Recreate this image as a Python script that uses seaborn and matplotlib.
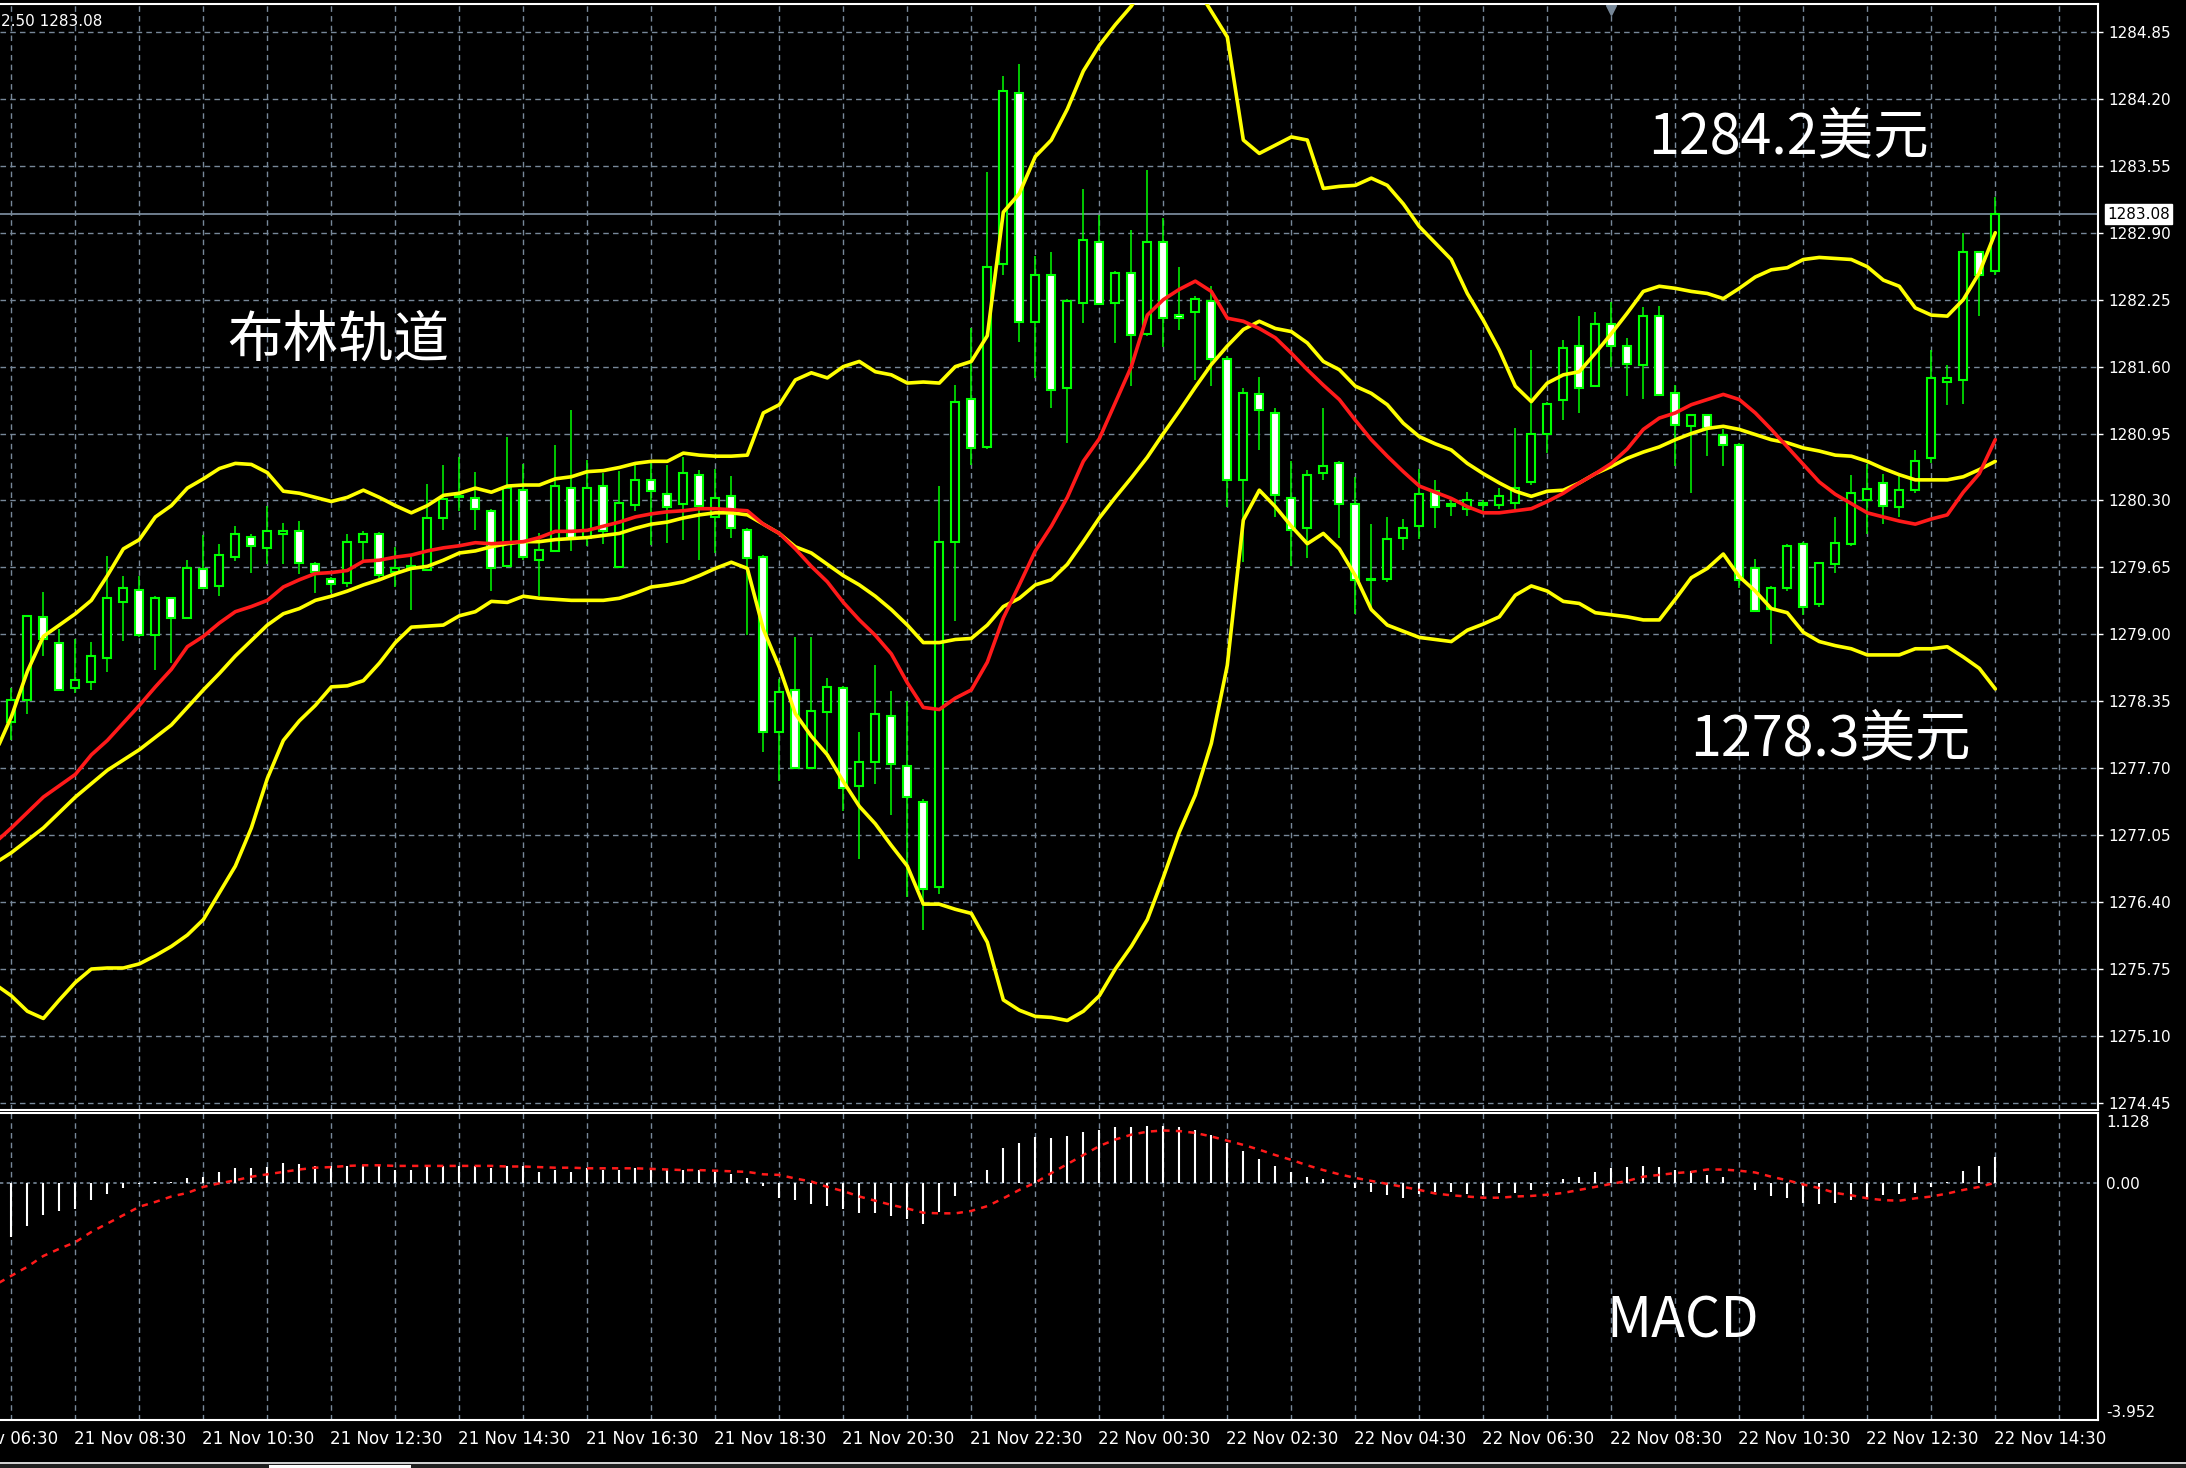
import numpy as np
import matplotlib
matplotlib.use("Agg")
import matplotlib.pyplot as plt
import matplotlib.transforms as mtransforms
from matplotlib.patches import Rectangle
import seaborn as sns

# ---------------------------------------------------------------------------
# 数据 (M15, 序号 0 = 21 Nov 06:30)
candle_t = np.arange(4, 129)
opens = [1278.15, 1278.36, 1279.17, 1278.92, 1278.48, 1278.54, 1278.77, 1279.31, 1279.43, 1278.99,
         1279.35, 1279.16, 1279.63, 1279.47, 1279.75, 1279.95, 1279.84, 1279.97, 1280.00, 1279.68,
         1279.54, 1279.50, 1279.90, 1279.97, 1279.61, 1279.64, 1279.62, 1280.13, 1280.33, 1280.32,
         1280.20, 1279.66, 1280.40, 1279.72, 1279.81, 1280.42, 1279.94, 1280.44, 1279.65, 1280.26,
         1280.50, 1280.36, 1280.27, 1280.55, 1280.14, 1280.34, 1280.01, 1279.75, 1278.05, 1278.46,
         1277.70, 1278.25, 1278.48, 1277.53, 1277.76, 1278.21, 1277.72, 1277.37, 1276.55, 1279.90,
         1281.29, 1280.82, 1282.60, 1284.26, 1282.03, 1282.49, 1281.39, 1282.22, 1282.81, 1282.22,
         1282.51, 1281.92, 1282.81, 1282.10, 1282.13, 1282.24, 1281.67, 1280.50, 1281.33, 1281.15,
         1280.32, 1280.03, 1280.57, 1280.66, 1280.27, 1279.53, 1279.54, 1279.94, 1280.05, 1280.39,
         1280.25, 1280.22, 1280.26, 1280.26, 1280.28, 1280.48, 1280.95, 1281.28, 1281.80, 1281.41,
         1282.01, 1281.80, 1281.62, 1282.09, 1281.34, 1281.02, 1281.13, 1280.94, 1280.84, 1279.64,
         1279.25, 1279.45, 1279.88, 1279.29, 1279.68, 1279.88, 1280.30, 1280.47, 1280.24, 1280.40,
         1280.71, 1281.45, 1281.47, 1282.71, 1282.53]
highs = [1278.48, 1279.18, 1279.41, 1279.05, 1278.95, 1278.93, 1279.76, 1279.57, 1279.57, 1279.37,
         1279.35, 1279.72, 1279.96, 1279.88, 1280.05, 1279.97, 1280.25, 1280.08, 1280.10, 1279.70,
         1279.56, 1279.97, 1280.00, 1279.99, 1279.85, 1279.75, 1280.46, 1280.64, 1280.72, 1280.58,
         1280.22, 1280.92, 1280.65, 1279.98, 1280.84, 1281.18, 1280.69, 1280.57, 1280.59, 1280.64,
         1280.66, 1280.64, 1280.72, 1280.60, 1280.61, 1280.54, 1280.03, 1279.77, 1278.57, 1278.97,
         1278.97, 1278.58, 1278.50, 1278.05, 1278.70, 1278.45, 1278.35, 1277.40, 1280.44, 1281.42,
         1281.97, 1283.49, 1284.42, 1284.54, 1282.67, 1282.71, 1282.26, 1283.32, 1283.07, 1282.53,
         1282.93, 1283.51, 1283.04, 1282.57, 1282.29, 1282.38, 1281.70, 1281.39, 1281.50, 1281.20,
         1280.68, 1280.60, 1281.20, 1280.68, 1280.53, 1280.07, 1280.14, 1280.12, 1280.61, 1280.50,
         1280.33, 1280.38, 1280.30, 1280.42, 1281.00, 1281.76, 1281.26, 1281.86, 1282.09, 1282.13,
         1282.23, 1281.88, 1282.18, 1282.19, 1281.42, 1281.14, 1281.13, 1280.99, 1280.86, 1279.73,
         1279.47, 1279.88, 1279.90, 1279.70, 1280.14, 1280.55, 1280.65, 1280.56, 1280.55, 1280.79,
         1281.76, 1281.62, 1282.90, 1282.72, 1283.25]
lows = [1277.97, 1278.23, 1278.79, 1278.46, 1278.43, 1278.46, 1278.63, 1278.94, 1278.97, 1278.65,
        1278.72, 1279.16, 1279.45, 1279.37, 1279.71, 1279.60, 1279.68, 1279.68, 1279.59, 1279.40,
        1279.40, 1279.46, 1279.72, 1279.55, 1279.46, 1279.24, 1279.62, 1280.01, 1280.20, 1280.01,
        1279.42, 1279.66, 1279.72, 1279.37, 1279.81, 1279.81, 1279.86, 1279.88, 1279.65, 1280.20,
        1279.87, 1279.89, 1279.92, 1279.72, 1279.79, 1279.94, 1278.99, 1277.86, 1277.58, 1277.70,
        1277.70, 1277.81, 1277.28, 1276.82, 1277.55, 1277.25, 1276.45, 1276.13, 1276.48, 1279.13,
        1280.64, 1280.80, 1282.49, 1281.84, 1281.49, 1281.20, 1280.86, 1282.02, 1282.21, 1281.83,
        1281.41, 1281.90, 1281.79, 1281.96, 1281.47, 1281.41, 1280.24, 1279.70, 1280.79, 1280.14,
        1279.66, 1279.74, 1280.50, 1279.94, 1279.20, 1279.24, 1279.51, 1279.82, 1279.93, 1280.03,
        1280.15, 1280.15, 1280.20, 1280.22, 1280.22, 1280.45, 1280.76, 1281.08, 1281.15, 1281.41,
        1281.60, 1281.31, 1281.29, 1281.32, 1280.63, 1280.37, 1280.73, 1280.63, 1279.45, 1279.22,
        1278.91, 1279.42, 1279.19, 1279.27, 1279.60, 1279.86, 1279.97, 1280.07, 1280.14, 1280.37,
        1280.66, 1281.23, 1281.24, 1282.09, 1282.49]
closes = [1278.36, 1279.18, 1278.95, 1278.46, 1278.56, 1278.79, 1279.35, 1279.45, 1278.99, 1279.35,
          1279.16, 1279.64, 1279.45, 1279.77, 1279.97, 1279.86, 1280.00, 1280.00, 1279.69, 1279.61,
          1279.49, 1279.90, 1279.97, 1279.58, 1279.64, 1279.66, 1280.13, 1280.31, 1280.34, 1280.22,
          1279.64, 1280.42, 1279.75, 1279.82, 1280.44, 1279.94, 1280.42, 1280.00, 1280.28, 1280.50,
          1280.39, 1280.24, 1280.57, 1280.25, 1280.32, 1280.03, 1279.74, 1278.05, 1278.44, 1277.70,
          1278.26, 1278.49, 1277.51, 1277.76, 1278.23, 1277.74, 1277.42, 1276.53, 1279.90, 1281.26,
          1280.81, 1282.57, 1284.28, 1282.03, 1282.49, 1281.37, 1282.24, 1282.83, 1282.21, 1282.51,
          1281.91, 1282.81, 1282.07, 1282.07, 1282.26, 1281.67, 1280.50, 1281.34, 1281.18, 1280.35,
          1280.01, 1280.55, 1280.63, 1280.27, 1279.53, 1279.54, 1279.93, 1280.03, 1280.36, 1280.24,
          1280.27, 1280.30, 1280.27, 1280.34, 1280.42, 1280.95, 1281.24, 1281.78, 1281.39, 1282.01,
          1281.80, 1281.63, 1282.09, 1281.32, 1281.03, 1281.13, 1281.00, 1280.84, 1279.53, 1279.23,
          1279.45, 1279.86, 1279.27, 1279.69, 1279.89, 1280.37, 1280.41, 1280.25, 1280.40, 1280.68,
          1281.49, 1281.49, 1282.71, 1282.49, 1283.08]

# 布林轨道 + 红色均线 (t = 3..128)
band_t = np.arange(3, 129)
upper = [1277.85, 1278.20, 1278.64, 1278.98, 1279.09, 1279.20, 1279.33, 1279.57, 1279.83, 1279.92,
         1280.14, 1280.25, 1280.42, 1280.51, 1280.61, 1280.66, 1280.65, 1280.57, 1280.39, 1280.37,
         1280.33, 1280.29, 1280.33, 1280.40, 1280.33, 1280.25, 1280.18, 1280.25, 1280.35, 1280.37,
         1280.42, 1280.38, 1280.44, 1280.45, 1280.45, 1280.51, 1280.53, 1280.58, 1280.59, 1280.62,
         1280.66, 1280.68, 1280.68, 1280.76, 1280.74, 1280.73, 1280.73, 1280.74, 1281.15, 1281.23,
         1281.47, 1281.54, 1281.49, 1281.60, 1281.65, 1281.55, 1281.52, 1281.44, 1281.45, 1281.44,
         1281.60, 1281.65, 1281.90, 1283.10, 1283.28, 1283.64, 1283.80, 1284.10, 1284.47, 1284.72,
         1284.92, 1285.10, 1285.35, 1285.50, 1285.50, 1285.30, 1285.05, 1284.80, 1283.80, 1283.67,
         1283.75, 1283.83, 1283.80, 1283.33, 1283.35, 1283.36, 1283.43, 1283.36, 1283.18, 1282.96,
         1282.80, 1282.64, 1282.31, 1282.05, 1281.76, 1281.41, 1281.26, 1281.44, 1281.52, 1281.55,
         1281.73, 1281.92, 1282.12, 1282.33, 1282.38, 1282.36, 1282.33, 1282.31, 1282.26, 1282.36,
         1282.47, 1282.54, 1282.56, 1282.64, 1282.66, 1282.65, 1282.64, 1282.57, 1282.44, 1282.38,
         1282.17, 1282.10, 1282.09, 1282.25, 1282.51, 1282.90]
middle = [1276.78, 1276.88, 1277.00, 1277.12, 1277.27, 1277.42, 1277.55, 1277.68, 1277.78, 1277.88,
          1278.00, 1278.12, 1278.29, 1278.46, 1278.62, 1278.79, 1278.94, 1279.09, 1279.20, 1279.25,
          1279.33, 1279.37, 1279.42, 1279.48, 1279.53, 1279.59, 1279.64, 1279.66, 1279.72, 1279.79,
          1279.81, 1279.85, 1279.88, 1279.90, 1279.90, 1279.92, 1279.93, 1279.94, 1279.96, 1279.98,
          1280.03, 1280.07, 1280.09, 1280.13, 1280.16, 1280.18, 1280.18, 1280.16, 1280.07, 1279.98,
          1279.85, 1279.79, 1279.68, 1279.57, 1279.48, 1279.37, 1279.24, 1279.09, 1278.92, 1278.92,
          1278.95, 1278.96, 1279.09, 1279.27, 1279.35, 1279.48, 1279.53, 1279.68, 1279.90, 1280.13,
          1280.33, 1280.52, 1280.72, 1280.95, 1281.17, 1281.40, 1281.62, 1281.80, 1281.96, 1282.04,
          1281.97, 1281.94, 1281.83, 1281.65, 1281.57, 1281.41, 1281.34, 1281.23, 1281.05, 1280.92,
          1280.85, 1280.79, 1280.66, 1280.56, 1280.47, 1280.39, 1280.34, 1280.39, 1280.40, 1280.47,
          1280.56, 1280.63, 1280.71, 1280.77, 1280.82, 1280.89, 1280.95, 1281.00, 1281.02, 1280.99,
          1280.94, 1280.89, 1280.86, 1280.81, 1280.78, 1280.74, 1280.73, 1280.68, 1280.61, 1280.55,
          1280.50, 1280.50, 1280.50, 1280.53, 1280.60, 1280.68]
red_ma = [1276.98, 1277.12, 1277.27, 1277.42, 1277.53, 1277.64, 1277.83, 1277.97, 1278.14, 1278.31,
          1278.49, 1278.66, 1278.88, 1278.98, 1279.11, 1279.22, 1279.27, 1279.33, 1279.46, 1279.53,
          1279.59, 1279.60, 1279.62, 1279.71, 1279.72, 1279.75, 1279.77, 1279.81, 1279.84, 1279.86,
          1279.89, 1279.88, 1279.89, 1279.90, 1279.94, 1280.00, 1280.00, 1280.01, 1280.05, 1280.09,
          1280.14, 1280.17, 1280.19, 1280.20, 1280.22, 1280.22, 1280.21, 1280.20, 1280.07, 1279.98,
          1279.83, 1279.66, 1279.51, 1279.31, 1279.14, 1278.99, 1278.81, 1278.53, 1278.29, 1278.27,
          1278.38, 1278.46, 1278.73, 1279.16, 1279.48, 1279.81, 1280.05, 1280.33, 1280.68, 1280.90,
          1281.25, 1281.60, 1282.10, 1282.25, 1282.35, 1282.43, 1282.33, 1282.07, 1282.04, 1281.97,
          1281.88, 1281.73, 1281.57, 1281.42, 1281.28, 1281.08, 1280.89, 1280.73, 1280.58, 1280.44,
          1280.38, 1280.32, 1280.24, 1280.18, 1280.18, 1280.20, 1280.22, 1280.29, 1280.37, 1280.47,
          1280.56, 1280.66, 1280.80, 1280.99, 1281.10, 1281.15, 1281.23, 1281.28, 1281.33, 1281.28,
          1281.15, 1280.99, 1280.82, 1280.65, 1280.48, 1280.36, 1280.27, 1280.18, 1280.14, 1280.10,
          1280.07, 1280.12, 1280.16, 1280.38, 1280.56, 1280.89]
lower = [1275.60, 1275.49, 1275.34, 1275.27, 1275.45, 1275.62, 1275.75, 1275.76, 1275.76, 1275.80,
         1275.88, 1275.97, 1276.08, 1276.23, 1276.49, 1276.75, 1277.12, 1277.60, 1277.97, 1278.16,
         1278.31, 1278.49, 1278.50, 1278.55, 1278.72, 1278.92, 1279.07, 1279.08, 1279.09, 1279.18,
         1279.22, 1279.32, 1279.31, 1279.37, 1279.35, 1279.34, 1279.33, 1279.33, 1279.33, 1279.35,
         1279.40, 1279.46, 1279.48, 1279.51, 1279.57, 1279.64, 1279.70, 1279.64, 1279.05, 1278.68,
         1278.23, 1278.01, 1277.83, 1277.57, 1277.33, 1277.16, 1276.95, 1276.75, 1276.38, 1276.38,
         1276.33, 1276.29, 1276.01, 1275.45, 1275.35, 1275.29, 1275.28, 1275.25, 1275.34, 1275.49,
         1275.75, 1275.97, 1276.23, 1276.64, 1277.08, 1277.44, 1277.94, 1278.70, 1280.11, 1280.40,
         1280.24, 1280.05, 1279.88, 1279.98, 1279.83, 1279.57, 1279.24, 1279.09, 1279.03, 1278.97,
         1278.95, 1278.93, 1279.04, 1279.10, 1279.17, 1279.38, 1279.47, 1279.42, 1279.32, 1279.30,
         1279.21, 1279.19, 1279.17, 1279.14, 1279.14, 1279.34, 1279.55, 1279.64, 1279.78, 1279.56,
         1279.42, 1279.25, 1279.21, 1279.02, 1278.93, 1278.89, 1278.86, 1278.80, 1278.80, 1278.80,
         1278.86, 1278.86, 1278.88, 1278.78, 1278.67, 1278.47]

# MACD (柱 t = 4..128, 信号线 t = 3..128)
macd_hist = [-0.90, -0.72, -0.54, -0.47, -0.43, -0.28, -0.18, -0.08, -0.02, 0.02,
             0.02, 0.08, 0.10, 0.18, 0.24, 0.24, 0.26, 0.32, 0.31, 0.28,
             0.28, 0.27, 0.30, 0.27, 0.22, 0.22, 0.28, 0.28, 0.28, 0.28,
             0.25, 0.28, 0.28, 0.18, 0.22, 0.18, 0.24, 0.21, 0.21, 0.24,
             0.24, 0.21, 0.21, 0.21, 0.22, 0.14, 0.08, -0.06, -0.26, -0.28,
             -0.35, -0.39, -0.43, -0.51, -0.51, -0.56, -0.60, -0.69, -0.48, -0.22,
             0.03, 0.21, 0.57, 0.66, 0.76, 0.74, 0.78, 0.85, 0.88, 0.92,
             0.93, 0.95, 0.94, 0.92, 0.88, 0.80, 0.66, 0.52, 0.40, 0.28,
             0.18, 0.10, 0.06, 0.00, -0.08, -0.16, -0.20, -0.26, -0.18, -0.15,
             -0.15, -0.18, -0.21, -0.17, -0.17, -0.12, -0.02, 0.06, 0.10, 0.18,
             0.24, 0.26, 0.28, 0.26, 0.21, 0.20, 0.13, 0.10, -0.01, -0.12,
             -0.22, -0.25, -0.33, -0.35, -0.33, -0.29, -0.26, -0.21, -0.18, -0.17,
             -0.07, 0.02, 0.20, 0.28, 0.42]
macd_signal = [-1.70, -1.55, -1.40, -1.22, -1.10, -0.99, -0.82, -0.68, -0.54, -0.40,
               -0.32, -0.23, -0.17, -0.07, -0.01, 0.04, 0.10, 0.14, 0.18, 0.22,
               0.25, 0.26, 0.28, 0.29, 0.29, 0.28, 0.28, 0.28, 0.28, 0.28,
               0.28, 0.28, 0.27, 0.27, 0.26, 0.25, 0.25, 0.24, 0.24, 0.24,
               0.24, 0.23, 0.22, 0.21, 0.21, 0.20, 0.19, 0.18, 0.14, 0.13,
               0.07, 0.02, -0.07, -0.14, -0.23, -0.30, -0.37, -0.43, -0.50, -0.51,
               -0.51, -0.47, -0.39, -0.26, -0.12, 0.00, 0.16, 0.31, 0.46, 0.61,
               0.72, 0.80, 0.85, 0.87, 0.86, 0.83, 0.77, 0.70, 0.63, 0.55,
               0.46, 0.38, 0.29, 0.21, 0.14, 0.08, 0.03, -0.02, -0.07, -0.12,
               -0.18, -0.21, -0.23, -0.25, -0.25, -0.23, -0.22, -0.20, -0.17, -0.12,
               -0.07, -0.02, 0.03, 0.10, 0.13, 0.16, 0.18, 0.22, 0.22, 0.20,
               0.17, 0.10, 0.04, -0.03, -0.09, -0.17, -0.21, -0.26, -0.29, -0.30,
               -0.26, -0.23, -0.18, -0.12, -0.07, 0.00]

price_ticks = [1274.45, 1275.10, 1275.75, 1276.40, 1277.05, 1277.70, 1278.35, 1279.00, 1279.65,
               1280.30, 1280.95, 1281.60, 1282.25, 1282.90, 1283.55, 1284.20, 1284.85]
macd_ticks = [1.128, 0.0, -3.952]
macd_tick_labels = ["1.128", "0.00", "-3.952"]
time_labels = ["21 Nov 06:30", "21 Nov 08:30", "21 Nov 10:30", "21 Nov 12:30", "21 Nov 14:30",
               "21 Nov 16:30", "21 Nov 18:30", "21 Nov 20:30", "21 Nov 22:30", "22 Nov 00:30",
               "22 Nov 02:30", "22 Nov 04:30", "22 Nov 06:30", "22 Nov 08:30", "22 Nov 10:30",
               "22 Nov 12:30", "22 Nov 14:30"]
last_price = 1283.08

# ---------------------------------------------------------------------------
sns.set_theme(style="dark", rc={"axes.facecolor": "black", "figure.facecolor": "black"})
plt.rcParams['font.family'] = ['DejaVu Sans']
cjk = ['Noto Sans CJK SC', 'DejaVu Sans']

GRID = '#778899'
W, H = 2186, 1468
fig = plt.figure(figsize=(W / 100, H / 100), dpi=100, facecolor='black')
ax = fig.add_axes([0, 1 - 1110 / H, 2098 / W, (1110 - 4) / H])
ax2 = fig.add_axes([0, 1 - 1420 / H, 2098 / W, (1420 - 1113) / H])

xlim = (3.29, 134.42)

##############################################################################
# 主图: K线 + 布林轨道
o = np.array(opens); c = np.array(closes)
hi = np.array(highs); lo = np.array(lows)
bull = c >= o
body_lo = np.minimum(o, c)
body_h = np.maximum(np.abs(c - o), 0.012)

ax.vlines(candle_t, lo, hi, color='#00ff00', lw=1.1, zorder=2)
ax.bar(candle_t[bull], body_h[bull], bottom=body_lo[bull], width=0.5,
       color='black', edgecolor='#00ff00', linewidth=1.5, zorder=2.5)
ax.bar(candle_t[~bull], body_h[~bull], bottom=body_lo[~bull], width=0.5,
       color='white', edgecolor='#00ff00', linewidth=1.5, zorder=2.5)

for band in (upper, middle, lower):
    sns.lineplot(x=band_t, y=band, ax=ax, color='#ffff00', linewidth=2.6, zorder=3)
sns.lineplot(x=band_t, y=red_ma, ax=ax, color='#ff1a1a', linewidth=2.6, zorder=3.5)

ax.axhline(last_price, color=GRID, lw=1.3, zorder=1)

ax.set_xlim(*xlim)
ax.set_ylim(1274.381, 1285.121)
ax.set_xticks(np.arange(4, 135, 4))
ax.set_yticks(price_ticks)
ax.set_yticklabels([f"{p:.2f}" for p in price_ticks])
ax.yaxis.tick_right()
ax.tick_params(axis='x', length=0, labelbottom=False)
ax.tick_params(axis='y', colors='white', labelcolor='white', length=3.5, width=1,
               pad=4, labelsize=11)
ax.grid(True, color=GRID, linestyle=(0, (4, 3)), linewidth=1.0, zorder=0)
ax.set_xlabel('')
ax.set_ylabel('')

tr = mtransforms.blended_transform_factory(ax.transAxes, ax.transData)
ax.text(1.0043, last_price, f"{last_price:.2f}", transform=tr, color='black', fontsize=11,
        va='center', ha='left',
        bbox=dict(facecolor='white', edgecolor='white', boxstyle='square,pad=0.15'))

trx = mtransforms.blended_transform_factory(ax.transData, ax.transAxes)
ax.plot([104], [0.9946], marker='v', color=GRID, markersize=7, transform=trx, clip_on=False)

ax.text(0.0005 * W / 2098, 1 - 17.5 / 1106, "2.50 1283.08", transform=ax.transAxes,
        color='white', fontsize=11, va='center', ha='left')

ax.text(227 / 2098, (1110 - 341) / 1106, "布林轨道", transform=ax.transAxes, color='white',
        fontsize=40, family=cjk, va='center', ha='left')
ax.text(1648 / 2098, (1110 - 138) / 1106, "1284.2美元", transform=ax.transAxes, color='white',
        fontsize=40, family=cjk, va='center', ha='left')
ax.text(1690 / 2098, (1110 - 740) / 1106, "1278.3美元", transform=ax.transAxes, color='white',
        fontsize=40, family=cjk, va='center', ha='left')

##############################################################################
# MACD
ax2.vlines(candle_t, 0, macd_hist, color='white', lw=1.5, zorder=3)
sns.lineplot(x=band_t, y=macd_signal, ax=ax2, color='#ff1a1a', linewidth=1.8,
             linestyle=(0, (2.5, 2.5)), zorder=4)
ax2.axhline(0, color=GRID, lw=1.2, linestyle=(0, (2, 2)), zorder=1)

ax2.set_xlim(*xlim)
ax2.set_ylim(-3.952, 1.161)
ax2.set_xticks(np.arange(8, 129, 8))
ax2.set_xticks(np.arange(4, 135, 8), minor=True)
ax2.set_xticklabels([])
ax2.tick_params(axis='x', which='major', colors='white', length=5, width=1.2, direction='out')
ax2.tick_params(axis='x', which='minor', length=0)
ax2.grid(True, which='both', axis='x', color=GRID, linestyle=(0, (4, 3)), linewidth=1.0, zorder=0)
ax2.grid(False, axis='y')
ax2.yaxis.tick_right()
ax2.set_yticks(macd_ticks)
ax2.set_yticklabels(macd_tick_labels)
ax2.tick_params(axis='y', colors='white', labelcolor='white', length=0, pad=6, labelsize=11)
lbls = ax2.get_yticklabels()
lbls[0].set_va('top')
lbls[2].set_va('bottom')
ax2.set_xlabel('')
ax2.set_ylabel('')

# 时间轴 (第一个标签在左边被截掉, 和原图一样)
trt = mtransforms.blended_transform_factory(ax2.transData, ax2.transAxes)
for k, lab in enumerate(time_labels):
    ax2.text(k * 8 - 0.1, -0.062, lab, transform=trt, color='white', fontsize=12,
             va='center', ha='left')

ax2.text(1606 / 2098, (1420 - 1322) / 307, "MACD", transform=ax2.transAxes, color='white',
         fontsize=40, family=cjk, va='center', ha='left')

for a in (ax, ax2):
    a.set_facecolor('black')
    a.spines['left'].set_visible(False)
    for s in ('top', 'right', 'bottom'):
        a.spines[s].set_visible(True)
        a.spines[s].set_color('white')
        a.spines[s].set_linewidth(1.5)

# 底部标签栏
fig.patches.append(Rectangle((0, 0), 1, 6 / H, transform=fig.transFigure,
                             facecolor='#202020', edgecolor='none'))
fig.patches.append(Rectangle((0, 4 / H), 1, 2 / H, transform=fig.transFigure,
                             facecolor='#d0d0d0', edgecolor='none'))
fig.patches.append(Rectangle((269 / W, 0), 142 / W, 3 / H, transform=fig.transFigure,
                             facecolor='white', edgecolor='none'))

fig.savefig('out.png', dpi=100, facecolor='black')
